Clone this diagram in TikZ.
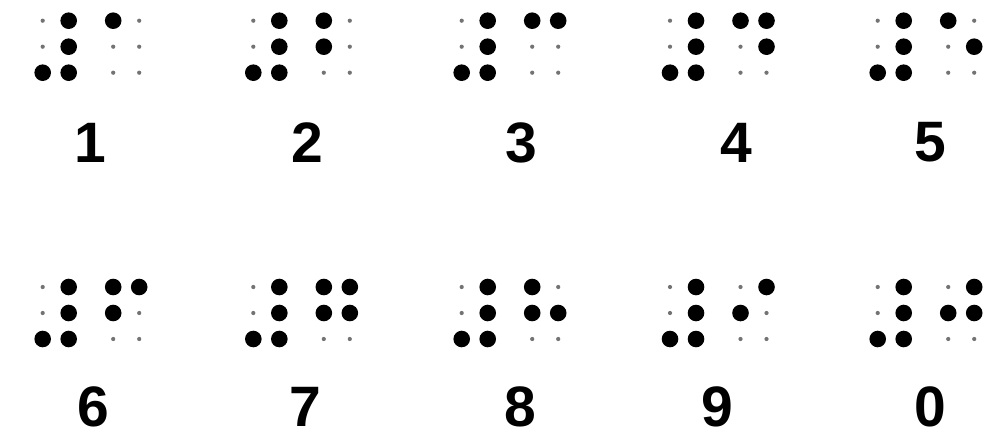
\documentclass[tikz,border=0pt]{standalone}
\usepackage{fontspec}
\setmainfont{Liberation Sans}
\tikzset{
  raiseddot/.style={fill=black},
  flatdot/.style={fill=black!55},
  digit/.style={font=\fontsize{57}{57}\selectfont\bfseries, inner sep=0pt, text=black}
}
% #1 x, #2 y (top dot row), #3 six flags (dots 1..6)
\newcommand\brcell[3]{%
  \foreach \v [count=\k from 0] in {#3} {%
    \pgfmathtruncatemacro\cc{\k/3}%
    \pgfmathtruncatemacro\rr{mod(\k,3)}%
    \ifnum\v=1
      \fill[raiseddot] ({#1+\cc*26},{#2+\rr*26}) circle (8.3pt);
    \else
      \fill[flatdot] ({#1+\cc*26},{#2+\rr*26}) circle (2.1pt);
    \fi
  }%
}
% number sign + letter cell
\newcommand\brnum[3]{%
  \brcell{#1}{#2}{0,0,1,1,1,1}%
  \brcell{#1+70.5}{#2}{#3}%
}
\begin{document}
\begin{tikzpicture}[x=1pt,y=-1pt]
\useasboundingbox[fill=white] (0,0) rectangle (984,436);
% top row
\brnum{42.7}{20.7}{1,0,0,0,0,0}
\brnum{253.3}{20.7}{1,1,0,0,0,0}
\brnum{461.7}{20.7}{1,0,0,1,0,0}
\brnum{670}{20.7}{1,0,0,1,1,0}
\brnum{877.7}{20.7}{1,0,0,0,1,0}
% bottom row
\brnum{42.7}{287}{1,1,0,1,0,0}
\brnum{253.3}{287}{1,1,0,1,1,0}
\brnum{461.7}{287}{1,1,0,0,1,0}
\brnum{670}{287}{0,1,0,1,0,0}
\brnum{877.7}{287}{0,1,0,1,1,0}
% digits
\node[digit] (d1) at (90,142.5) {1};
\node[digit] (d2) at (307,142.5) {2};
\node[digit] (d3) at (521.7,142.5) {3};
\node[digit] (d4) at (736.5,142.5) {4};
\node[digit] (d5) at (930,142.5) {5};
\node[digit] (d6) at (93,406.5) {6};
\node[digit] (d7) at (305,406.5) {7};
\node[digit] (d8) at (520,406.5) {8};
\node[digit] (d9) at (717,406.5) {9};
\node[digit] (d0) at (930,406.5) {0};
\end{tikzpicture}
\end{document}
